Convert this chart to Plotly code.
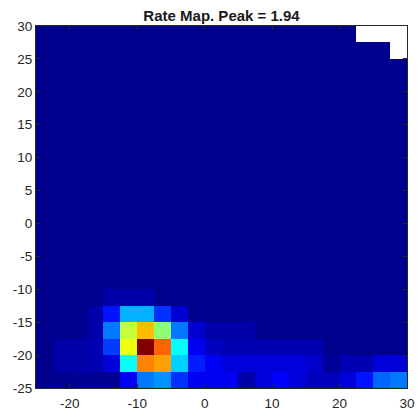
import plotly.graph_objects as go

peak = 1.94
x_centers = [-23.75 + 2.5 * i for i in range(22)]
y_centers = [-23.75 + 2.5 * i for i in range(22)]
x_ticks = [-20, -10, 0, 10, 20, 30]
x_ticklabels = ["-20", "-10", "0", "10", "20", "30"]
y_ticks = [-25, -20, -15, -10, -5, 0, 5, 10, 15, 20, 25, 30]
y_ticklabels = ["-25", "-20", "-15", "-10", "-5", "0", "5", "10", "15", "20", "25", "30"]

N = None
# rows from bottom (y=-25) to top (y=30); rate in Hz
rows = [
    [0, 0, 0.01, 0.01, 0.01, 0.19, 0.45, 0.50, 0.31, 0.19, 0.19, 0.19, 0.05, 0.15, 0.21, 0.15, 0.09, 0.09, 0.14, 0.25, 0.41, 0.45],
    [0, 0.05, 0.05, 0.07, 0.14, 0.72, 1.44, 1.38, 0.62, 0.27, 0.19, 0.15, 0.15, 0.15, 0.15, 0.15, 0.11, 0.02, 0.07, 0.07, 0.14, 0.14],
    [0, 0.05, 0.05, 0.07, 0.33, 1.17, 1.94, 1.50, 0.71, 0.19, 0.09, 0.07, 0.07, 0.07, 0.07, 0.07, 0.07, 0, 0, 0, 0, 0],
    [0, 0, 0, 0.05, 0.45, 1.09, 1.33, 0.98, 0.45, 0.13, 0.05, 0.05, 0.05, 0, 0, 0, 0, 0, 0, 0, 0, 0],
    [0, 0, 0, 0.05, 0.25, 0.56, 0.56, 0.31, 0.13, 0, 0, 0, 0, 0, 0, 0, 0, 0, 0, 0, 0, 0],
    [0, 0, 0, 0, 0.05, 0.05, 0.05, 0, 0, 0, 0, 0, 0, 0, 0, 0, 0, 0, 0, 0, 0, 0],
    [0, 0, 0, 0, 0, 0, 0, 0, 0, 0, 0, 0, 0, 0, 0, 0, 0, 0, 0, 0, 0, 0],
    [0, 0, 0, 0, 0, 0, 0, 0, 0, 0, 0, 0, 0, 0, 0, 0, 0, 0, 0, 0, 0, 0],
    [0, 0, 0, 0, 0, 0, 0, 0, 0, 0, 0, 0, 0, 0, 0, 0, 0, 0, 0, 0, 0, 0],
    [0, 0, 0, 0, 0, 0, 0, 0, 0, 0, 0, 0, 0, 0, 0, 0, 0, 0, 0, 0, 0, 0],
    [0, 0, 0, 0, 0, 0, 0, 0, 0, 0, 0, 0, 0, 0, 0, 0, 0, 0, 0, 0, 0, 0],
    [0, 0, 0, 0, 0, 0, 0, 0, 0, 0, 0, 0, 0, 0, 0, 0, 0, 0, 0, 0, 0, 0],
    [0, 0, 0, 0, 0, 0, 0, 0, 0, 0, 0, 0, 0, 0, 0, 0, 0, 0, 0, 0, 0, 0],
    [0, 0, 0, 0, 0, 0, 0, 0, 0, 0, 0, 0, 0, 0, 0, 0, 0, 0, 0, 0, 0, 0],
    [0, 0, 0, 0, 0, 0, 0, 0, 0, 0, 0, 0, 0, 0, 0, 0, 0, 0, 0, 0, 0, 0],
    [0, 0, 0, 0, 0, 0, 0, 0, 0, 0, 0, 0, 0, 0, 0, 0, 0, 0, 0, 0, 0, 0],
    [0, 0, 0, 0, 0, 0, 0, 0, 0, 0, 0, 0, 0, 0, 0, 0, 0, 0, 0, 0, 0, 0],
    [0, 0, 0, 0, 0, 0, 0, 0, 0, 0, 0, 0, 0, 0, 0, 0, 0, 0, 0, 0, 0, 0],
    [0, 0, 0, 0, 0, 0, 0, 0, 0, 0, 0, 0, 0, 0, 0, 0, 0, 0, 0, 0, 0, 0],
    [0, 0, 0, 0, 0, 0, 0, 0, 0, 0, 0, 0, 0, 0, 0, 0, 0, 0, 0, 0, 0, 0],
    [0, 0, 0, 0, 0, 0, 0, 0, 0, 0, 0, 0, 0, 0, 0, 0, 0, 0, 0, 0, 0, N],
    [0, 0, 0, 0, 0, 0, 0, 0, 0, 0, 0, 0, 0, 0, 0, 0, 0, 0, 0, N, N, N],
]

jet = [
    [0.0, "rgb(0,0,143)"],
    [0.111, "rgb(0,0,255)"],
    [0.365, "rgb(0,255,255)"],
    [0.619, "rgb(255,255,0)"],
    [0.873, "rgb(255,0,0)"],
    [1.0, "rgb(128,0,0)"],
]

fig = go.Figure(
    go.Heatmap(
        x=x_centers, y=y_centers, z=rows,
        colorscale=jet, zmin=0, zmax=peak,
        showscale=False, hoverongaps=False,
    )
)

axis_common = dict(
    showline=True, linecolor="#262626", linewidth=1, mirror="ticks",
    ticks="inside", ticklen=4, tickcolor="#262626", tickwidth=1,
    showgrid=False, zeroline=False, automargin=False,
    tickfont=dict(family="Liberation Sans, Arial, sans-serif", size=13.5, color="#262626"),
)

fig.update_layout(
    width=418, height=417,
    margin=dict(l=36, r=11, t=26, b=29, autoexpand=False),
    paper_bgcolor="white", plot_bgcolor="white",
    title=dict(
        text="<b>Rate Map. Peak = 1.94</b>",
        x=0.53, xanchor="center", y=0.962, yanchor="middle",
        font=dict(family="Liberation Sans, Arial, sans-serif", size=15, color="#1a1a1a"),
    ),
    xaxis=dict(range=[-25, 30], tickvals=x_ticks, ticktext=x_ticklabels,
               ticklabelstandoff=3, **axis_common),
    yaxis=dict(range=[-25, 30], tickvals=y_ticks, ticktext=y_ticklabels, **axis_common),
)

fig.write_html("out.html")
